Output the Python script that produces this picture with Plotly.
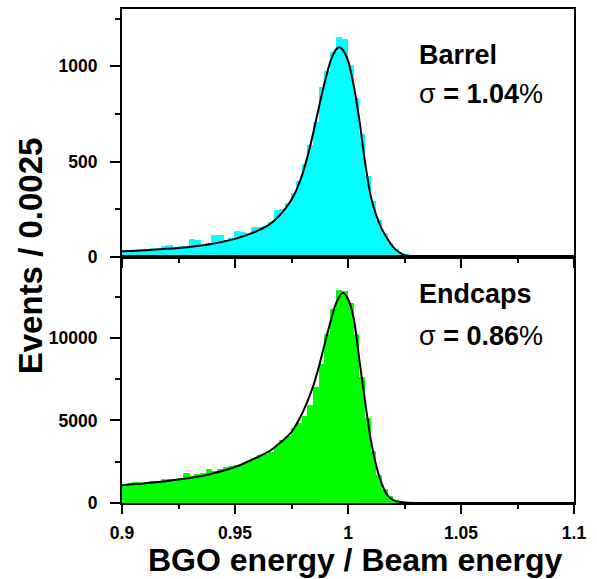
import plotly.graph_objects as go
from plotly.subplots import make_subplots

# Histogram binning: 0.0025 wide bins starting at 0.9
BIN_LO = 0.9
BIN_W = 0.0025

barrel_counts = [28, 30, 32, 31, 36, 40, 38, 55, 57, 46, 50, 54, 88, 86, 60, 70,
                 108, 110, 85, 92, 130, 128, 118, 151, 150, 158, 180, 240, 245, 280,
                 330, 395, 480, 583, 703, 885, 969, 1068, 1146, 1135, 1000, 830, 640,
                 420, 290, 190, 120, 70, 35, 15, 8, 4, 2, 1]

endcap_counts = [1100, 1150, 1230, 1180, 1230, 1290, 1300, 1380, 1400, 1420, 1460,
                 1780, 1600, 1680, 1740, 1980, 1900, 2020, 2100, 2180, 2250, 2330,
                 2500, 2650, 2850, 2900, 3020, 3380, 3780, 3980, 4480, 4780, 5180,
                 5880, 6980, 8380, 10180, 11680, 12820, 12780, 12080, 10200, 7600,
                 5100, 3100, 1650, 800, 360, 150, 60, 25, 10, 4, 2]

# Fitted line shapes
barrel_fit_x = [0.9, 0.9125, 0.925, 0.9375, 0.95, 0.9575, 0.965, 0.97, 0.9725, 0.975,
                0.9775, 0.98, 0.9825, 0.985, 0.9875, 0.99, 0.9925, 0.995, 0.9963,
                0.9975, 1.0, 1.0025, 1.005, 1.0075, 1.01, 1.0125, 1.015, 1.0175, 1.02,
                1.0225, 1.025, 1.03, 1.04, 1.1]
barrel_fit_y = [30, 37, 47, 64, 95, 125, 168, 222, 258, 300, 360, 440, 545, 670, 805,
                930, 1035, 1092, 1099, 1088, 1030, 900, 720, 500, 323, 219, 146, 94,
                52, 26, 10, 2, 0, 0]

endcap_fit_x = [0.9, 0.9125, 0.925, 0.9375, 0.95, 0.96, 0.9657, 0.97, 0.9725, 0.975,
                0.9775, 0.98, 0.9825, 0.985, 0.9875, 0.99, 0.9925, 0.995, 0.9977, 1.0,
                1.0025, 1.005, 1.0075, 1.01, 1.0125, 1.015, 1.0175, 1.02, 1.0225,
                1.025, 1.03, 1.04, 1.1]
endcap_fit_y = [1080, 1220, 1420, 1700, 2180, 2780, 3180, 3650, 3950, 4300, 4850,
                5500, 6300, 7250, 8450, 9800, 11100, 12200, 12740, 12350, 11200, 8700,
                6200, 3900, 2250, 1150, 460, 170, 70, 25, 5, 0, 0]

x_tick_vals = [0.9, 0.95, 1.0, 1.05, 1.1]
x_tick_text = ["0.9", "0.95", "1", "1.05", "1.1"]
barrel_tick_vals = [0, 500, 1000]
endcap_tick_vals = [0, 5000, 10000]

barrel_label = ["<b>Barrel</b>", "σ <b>= 1.04</b>%"]
endcap_label = ["<b>Endcaps</b>", "σ <b>= 0.86</b>%"]

FONT = "Liberation Sans, Arial, Helvetica, sans-serif"

centers = [BIN_LO + BIN_W * (i + 0.5) for i in range(len(barrel_counts))]

fig = make_subplots(rows=2, cols=1, shared_xaxes=True, vertical_spacing=0)

fig.add_trace(go.Bar(x=centers, y=barrel_counts, width=BIN_W,
                     marker=dict(color="#00ffff", line=dict(color="#00ffff", width=1)),
                     showlegend=False), row=1, col=1)
fig.add_trace(go.Scatter(x=barrel_fit_x, y=barrel_fit_y, mode="lines",
                         line=dict(color="black", width=2, shape="spline", smoothing=0.8),
                         showlegend=False), row=1, col=1)

fig.add_trace(go.Bar(x=centers, y=endcap_counts, width=BIN_W,
                     marker=dict(color="#00ff00", line=dict(color="#00ff00", width=1)),
                     showlegend=False), row=2, col=1)
fig.add_trace(go.Scatter(x=endcap_fit_x, y=endcap_fit_y, mode="lines",
                         line=dict(color="black", width=2, shape="spline", smoothing=0.8),
                         showlegend=False), row=2, col=1)

axis_common = dict(showline=True, linecolor="black", linewidth=2, mirror=True,
                   showgrid=False, zeroline=False, ticks="outside", tickwidth=2,
                   tickcolor="black",
                   tickfont=dict(family=FONT, size=17.5, color="black", weight="bold"))

fig.update_xaxes(range=[0.9, 1.1], tickvals=x_tick_vals, ticktext=x_tick_text, ticklen=9,
                 ticklabelstandoff=4,
                 minor=dict(ticks="outside", dtick=0.025, tick0=0.9, ticklen=4,
                            tickwidth=2, tickcolor="black"),
                 **axis_common)
fig.update_xaxes(showticklabels=False, row=1, col=1)

fig.update_yaxes(ticklen=10, ticklabelstandoff=9, **axis_common)
fig.update_yaxes(range=[0, 1300], tickvals=barrel_tick_vals,
                 ticktext=[str(v) for v in barrel_tick_vals],
                 minor=dict(ticks="outside", dtick=250, ticklen=5, tickwidth=2,
                            tickcolor="black"),
                 domain=[0.498, 1.0], row=1, col=1)
fig.update_yaxes(range=[0, 14900], tickvals=endcap_tick_vals,
                 ticktext=[str(v) for v in endcap_tick_vals],
                 minor=dict(ticks="outside", dtick=2500, ticklen=5, tickwidth=2,
                            tickcolor="black"),
                 domain=[0.0, 0.498], row=2, col=1)

annotations = []
for yref, label, ys in [("y domain", barrel_label, (0.815, 0.659)),
                        ("y2 domain", endcap_label, (0.850, 0.680))]:
    for text, yy in zip(label, ys):
        annotations.append(dict(x=0.653, y=yy, xref="x domain", yref=yref, text=text,
                                showarrow=False, xanchor="left", yanchor="middle",
                                font=dict(family=FONT, size=27, color="black")))

annotations.append(dict(x=0.516, y=-0.115, xref="paper", yref="paper",
                        text="<b>BGO energy / Beam energy</b>", showarrow=False,
                        xanchor="center", yanchor="middle",
                        font=dict(family=FONT, size=32, color="black")))
annotations.append(dict(x=-0.203, y=0.5, xref="paper", yref="paper",
                        text="<b>Events / 0.0025</b>", showarrow=False, textangle=-90,
                        xanchor="center", yanchor="middle",
                        font=dict(family=FONT, size=33, color="black")))

fig.update_layout(width=597, height=579, margin=dict(l=122, r=23, t=7, b=76),
                  paper_bgcolor="white", plot_bgcolor="white", bargap=0,
                  barmode="overlay", annotations=annotations,
                  font=dict(family=FONT, color="black"))

fig.write_html("out.html")
